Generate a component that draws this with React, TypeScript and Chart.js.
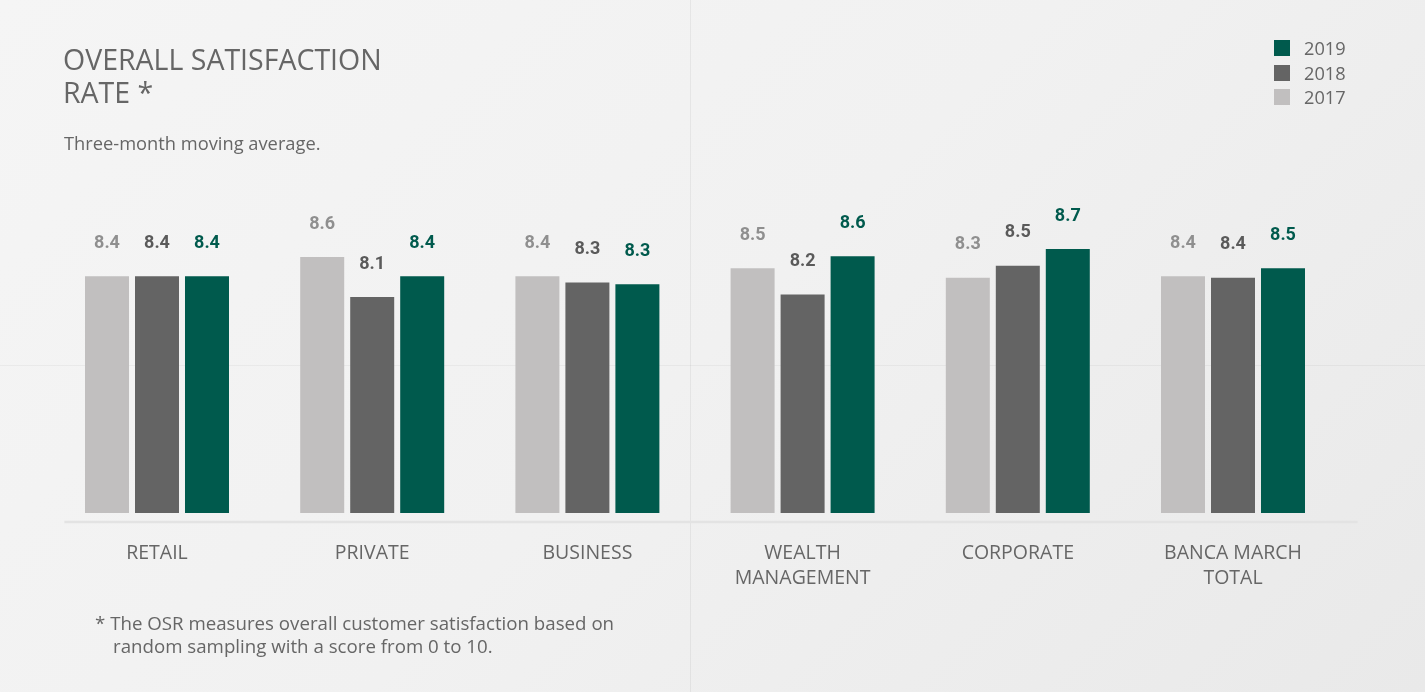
import React, { useEffect, useRef } from "react";
import { Chart, registerables } from "chart.js";

Chart.register(...registerables);

const categories: string[][] = [
  ["RETAIL"],
  ["PRIVATE"],
  ["BUSINESS"],
  ["WEALTH", "MANAGEMENT"],
  ["CORPORATE"],
  ["BANCA MARCH", "TOTAL"],
];
const years = ["2017", "2018", "2019"];
const values2017 = [8.36, 8.6, 8.36, 8.46, 8.34, 8.36];
const values2018 = [8.36, 8.1, 8.28, 8.13, 8.49, 8.34];
const values2019 = [8.36, 8.36, 8.26, 8.61, 8.7, 8.46];
const labels2017 = ["8.4", "8.6", "8.4", "8.5", "8.3", "8.4"];
const labels2018 = ["8.4", "8.1", "8.3", "8.2", "8.5", "8.4"];
const labels2019 = ["8.4", "8.4", "8.3", "8.6", "8.7", "8.5"];

const barColors = ["#c1bfbf", "#646464", "#005a4d"];
const labelColors = ["#8f8f8f", "#5a5a5a", "#005a4d"];
const legendOrder = [2, 1, 0];

const FONT = "'Open Sans', 'Noto Sans', sans-serif";

export default function App() {
  const canvasRef = useRef<HTMLCanvasElement | null>(null);

  useEffect(() => {
    const canvas = canvasRef.current;
    if (!canvas) return;
    const valueTexts = [labels2017, labels2018, labels2019];

    const valueLabels = {
      id: "valueLabels",
      afterDatasetsDraw(chart: any) {
        const ctx = chart.ctx;
        chart.data.datasets.forEach((_ds: any, i: number) => {
          const meta = chart.getDatasetMeta(i);
          meta.data.forEach((bar: any, j: number) => {
            ctx.save();
            ctx.font = "bold 18px Roboto, sans-serif";
            ctx.fillStyle = labelColors[i];
            ctx.textAlign = "center";
            ctx.textBaseline = "middle";
            ctx.fillText(valueTexts[i][j], bar.x, bar.y - 33);
            ctx.restore();
          });
        });
      },
    };

    const axisLine = {
      id: "axisLine",
      beforeDatasetsDraw(chart: any) {
        const { ctx, chartArea } = chart;
        ctx.save();
        ctx.strokeStyle = "#e3e3e3";
        ctx.lineWidth = 2.5;
        ctx.beginPath();
        ctx.moveTo(chartArea.left + 15, chartArea.bottom + 9);
        ctx.lineTo(chartArea.right + 17, chartArea.bottom + 9);
        ctx.stroke();
        ctx.restore();
      },
    };

    const chart = new Chart(canvas, {
      type: "bar",
      data: {
        labels: categories,
        datasets: [
          { label: years[0], data: values2017, backgroundColor: barColors[0] },
          { label: years[1], data: values2018, backgroundColor: barColors[1] },
          { label: years[2], data: values2019, backgroundColor: barColors[2] },
        ].map((d) => ({ ...d, categoryPercentage: 0.697, barPercentage: 0.88, borderWidth: 0 })),
      },
      options: {
        responsive: false,
        maintainAspectRatio: false,
        animation: false,
        devicePixelRatio: 1,
        layout: { padding: { left: 49.4, right: 84.4, top: 193, bottom: 79 } },
        plugins: { legend: { display: false }, tooltip: { enabled: false }, title: { display: false } },
        scales: {
          x: {
            grid: { display: false, drawTicks: false },
            border: { display: false },
            ticks: {
              color: "#666666",
              font: { family: FONT, size: 19.5, lineHeight: 25 / 19.5 },
              padding: 28,
              maxRotation: 0,
              autoSkip: false,
            },
            afterFit: (scale: any) => {
              scale.height = 100;
            },
          },
          y: { display: false, min: 5.4, max: 9.4 },
        },
      },
      plugins: [axisLine, valueLabels],
    } as any);
    return () => chart.destroy();
  }, []);

  const textColor = "#666666";

  return (
    <div
      style={{
        position: "absolute",
        left: 0,
        top: 0,
        width: 1425,
        height: 692,
        overflow: "hidden",
        background: "linear-gradient(135deg, #f5f5f5 0%, #f1f1f1 50%, #e9e9e9 100%)",
        fontFamily: FONT,
        color: textColor,
      }}
    >
      <div style={{ position: "absolute", left: 690, top: 0, width: 1, height: 692, background: "rgba(0,0,0,0.05)" }} />
      <div style={{ position: "absolute", left: 0, top: 365, width: 1425, height: 1, background: "rgba(0,0,0,0.04)" }} />
      <canvas ref={canvasRef} width={1425} height={692} style={{ position: "absolute", left: 0, top: 0 }} />
      <div style={{ position: "absolute", left: 63, top: 43, fontSize: 28.5, lineHeight: "33px", fontWeight: 400 }}>
        OVERALL SATISFACTION
        <br />
        RATE *
      </div>
      <div style={{ position: "absolute", left: 64, top: 131, fontSize: 18.3, lineHeight: "24px" }}>
        Three-month moving average.
      </div>
      <div style={{ position: "absolute", left: 1274, top: 36 }}>
        {legendOrder.map((i) => (
          <div key={years[i]} style={{ display: "flex", alignItems: "center", height: 24.5 }}>
            <div style={{ width: 16, height: 16, background: barColors[i], marginRight: 14 }} />
            <span style={{ fontSize: 18.2, lineHeight: "20px" }}>{years[i]}</span>
          </div>
        ))}
      </div>
      <div
        style={{
          position: "absolute",
          left: 95,
          top: 611,
          width: 640,
          fontSize: 18.7,
          lineHeight: "23px",
          paddingLeft: 18,
          textIndent: -18,
        }}
      >
        * The OSR measures overall customer satisfaction based on
        <br />
        random sampling with a score from 0 to 10.
      </div>
    </div>
  );
}
